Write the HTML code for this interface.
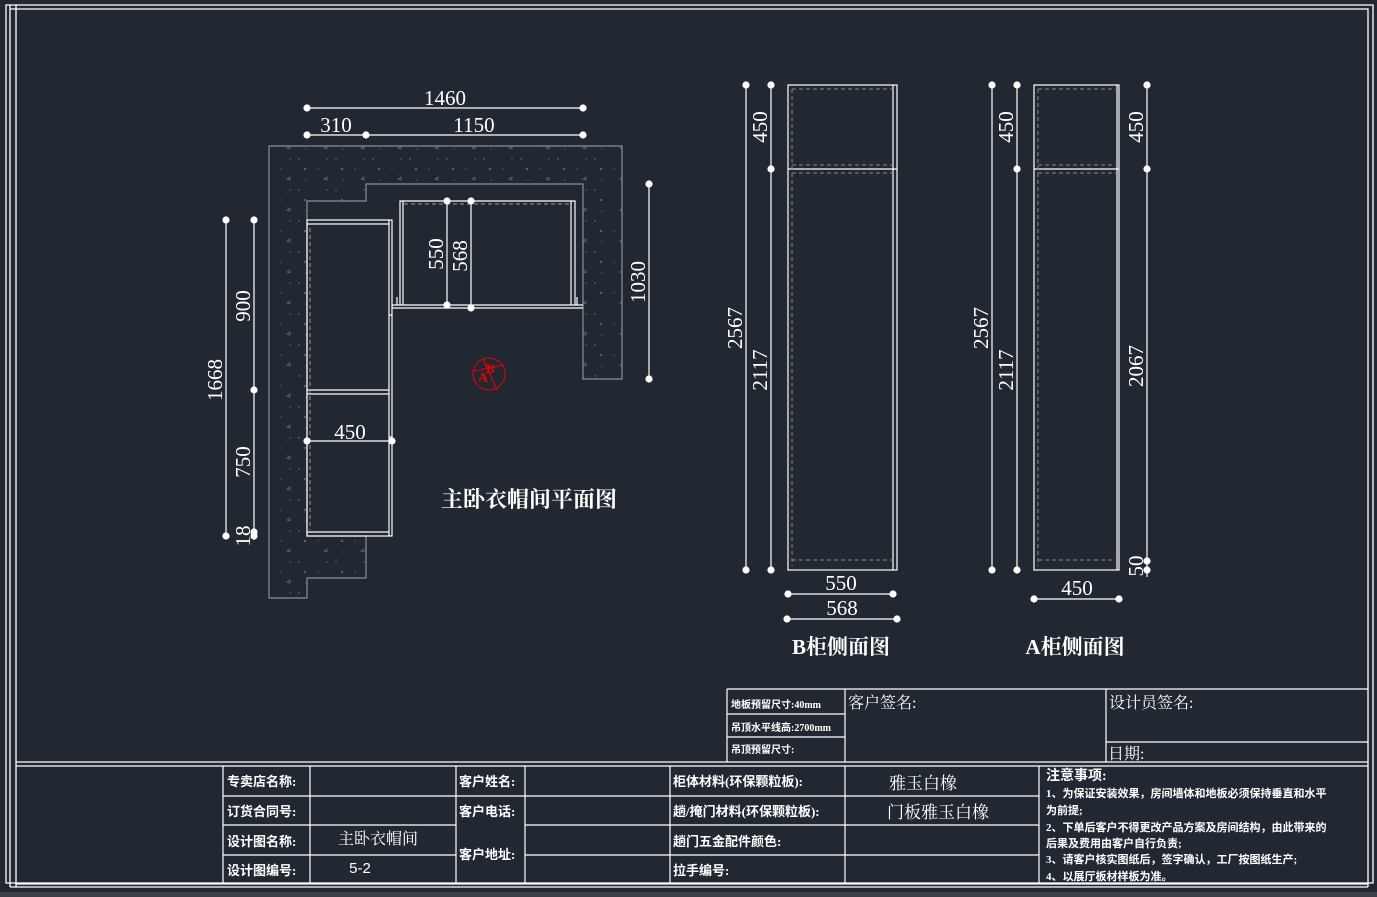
<!DOCTYPE html>
<html><head><meta charset="utf-8"><style>
html,body{margin:0;padding:0;background:#222831;}
svg{display:block}
text{font-family:"Liberation Serif","Noto Serif CJK SC","WenQuanYi Zen Hei",serif;fill:#fff}
.t{font-family:"Liberation Serif","Noto Sans CJK SC",serif;font-weight:bold;font-size:13px}
.d{font-size:21px}
</style></head><body>
<svg width="1377" height="897" viewBox="0 0 1377 897" xmlns="http://www.w3.org/2000/svg">
<defs>
<pattern id="sp" width="37" height="31" patternUnits="userSpaceOnUse">
<rect width="37" height="31" fill="#222831"/>
<circle cx="3" cy="4" r="0.7" fill="#7a7f86"/>
<circle cx="22" cy="14" r="0.6" fill="#6a6f76"/>
<circle cx="10" cy="25" r="0.6" fill="#6a6f76"/>
<path d="M28 24 l3 -2 l0 3 z" fill="none" stroke="#6a6f76" stroke-width="0.7"/>
<path d="M8 13 l2 2 M10 13 l-2 2" stroke="#6a6f76" stroke-width="0.7"/>
<circle cx="31" cy="4" r="0.6" fill="#7a7f86"/>
</pattern>
</defs>
<rect width="1377" height="897" fill="#222831"/>
<rect x="0" y="892" width="1377" height="5" fill="#3b4047"/>
<g stroke="#fff" stroke-width="1.3" fill="none">
<path d="M6 5 H1373 V883 H6 Z"/>
<path d="M10 5 V887 M16 5 V887 M10 9 H1368 V887 M10 887 H1368"/>
<path d="M16 762 H1368 M16 766 H1368"/>
</g>
<path d="M269 146 H622 V379 H583 V184 H366 V201 H307 V536 H366 V578 H307 V598 H269 Z" fill="url(#sp)" stroke="#8a8f96" stroke-width="1.2"/>
<g stroke="#fff" stroke-width="1.2" fill="none">
<rect x="307" y="220" width="85" height="316"/>
<path d="M307 224 H389 M307 532 H389 M389 220 V536 M307 390 H389 M307 394 H389 M389 315 H392 M389 437 H392"/>
<path d="M400 305 V201 H575 V305 M403 201 V305 M571 201 V305"/>
<path d="M392 305 H583 M392 308 H583 M397 297 V305 M577 297 V305"/>
</g>
<path d="M310 228 V530 M404 204 H570" stroke="#999" stroke-width="1" stroke-dasharray="4,3" fill="none"/>
<g stroke="#fff" stroke-width="1.2" fill="#fff">
<line x1="307" y1="108" x2="583" y2="108"/><circle cx="307" cy="108" r="3"/><circle cx="583" cy="108" r="3"/>
<line x1="307" y1="135" x2="583" y2="135"/><circle cx="307" cy="135" r="3"/><circle cx="366" cy="135" r="3"/><circle cx="583" cy="135" r="3"/>
<line x1="226" y1="220" x2="226" y2="536"/><circle cx="226" cy="220" r="3"/><circle cx="226" cy="536" r="3"/>
<line x1="254" y1="220" x2="254" y2="540"/><circle cx="254" cy="220" r="3"/><circle cx="254" cy="390" r="3"/><circle cx="254" cy="532" r="3"/><circle cx="254" cy="536" r="3"/>
<line x1="649" y1="184" x2="649" y2="379"/><circle cx="649" cy="184" r="3"/><circle cx="649" cy="379" r="3"/>
<line x1="307" y1="441" x2="392" y2="441"/><circle cx="307" cy="441" r="3"/><circle cx="392" cy="441" r="3"/>
<line x1="447" y1="201" x2="447" y2="305"/><circle cx="447" cy="201" r="3"/><circle cx="447" cy="305" r="3"/>
<line x1="471" y1="201" x2="471" y2="308"/><circle cx="471" cy="201" r="3"/><circle cx="471" cy="308" r="3"/>
</g>
<text class="d" x="445" y="105" text-anchor="middle">1460</text>
<text class="d" x="336" y="132" text-anchor="middle">310</text>
<text class="d" x="474" y="132" text-anchor="middle">1150</text>
<text class="d" x="350" y="439" text-anchor="middle">450</text>
<text class="d" transform="translate(222,380) rotate(-90)" text-anchor="middle">1668</text>
<text class="d" transform="translate(250,306) rotate(-90)" text-anchor="middle">900</text>
<text class="d" transform="translate(250,462) rotate(-90)" text-anchor="middle">750</text>
<text class="d" transform="translate(250,536) rotate(-90)" text-anchor="middle">18</text>
<text class="d" transform="translate(645,282) rotate(-90)" text-anchor="middle">1030</text>
<text class="d" transform="translate(443,254) rotate(-90)" text-anchor="middle">550</text>
<text class="d" transform="translate(467,256) rotate(-90)" text-anchor="middle">568</text>
<g stroke="#e00" fill="none" stroke-width="1">
<circle cx="489" cy="374" r="16"/><line x1="483" y1="359" x2="497" y2="390"/><line x1="474" y1="371" x2="504" y2="365"/>
</g>
<text x="478" y="382" style="fill:#e00;font-size:14px;font-weight:bold">A</text>
<text x="486" y="373" style="fill:#e00;font-size:13px;font-weight:bold">B</text>
<text x="529" y="507" text-anchor="middle" style="font-size:22px;font-weight:bold">主卧衣帽间平面图</text>
<g stroke="#fff" stroke-width="1.2" fill="none">
<rect x="788" y="85" width="109" height="485"/>
<path d="M893 85 V570 M788 169 H897"/>
</g>
<path d="M792 89 V566 M792 89 H893 M792 165 H893 M792 173 H893 M792 560 H893" stroke="#888" stroke-dasharray="4,3" fill="none"/>
<g stroke="#fff" stroke-width="1.2" fill="#fff">
<line x1="746" y1="85" x2="746" y2="570"/><circle cx="746" cy="85" r="3"/><circle cx="746" cy="570" r="3"/>
<line x1="771" y1="85" x2="771" y2="570"/><circle cx="771" cy="85" r="3"/><circle cx="771" cy="169" r="3"/><circle cx="771" cy="570" r="3"/>
<line x1="788" y1="594" x2="893" y2="594"/><circle cx="788" cy="594" r="3"/><circle cx="893" cy="594" r="3"/>
<line x1="787" y1="619" x2="897" y2="619"/><circle cx="787" cy="619" r="3"/><circle cx="897" cy="619" r="3"/>
</g>
<text class="d" transform="translate(742,328) rotate(-90)" text-anchor="middle">2567</text>
<text class="d" transform="translate(767,127) rotate(-90)" text-anchor="middle">450</text>
<text class="d" transform="translate(767,370) rotate(-90)" text-anchor="middle">2117</text>
<text class="d" x="841" y="590" text-anchor="middle">550</text>
<text class="d" x="842" y="615" text-anchor="middle">568</text>
<text x="841" y="654" text-anchor="middle" style="font-size:21px;font-weight:bold">B柜侧面图</text>
<g stroke="#fff" stroke-width="1.2" fill="none">
<rect x="1034" y="85" width="85" height="485"/>
<path d="M1117 85 V570 M1034 169 H1119"/>
</g>
<path d="M1038 89 V566 M1038 89 H1117 M1038 165 H1117 M1038 173 H1117 M1038 560 H1117" stroke="#888" stroke-dasharray="4,3" fill="none"/>
<g stroke="#fff" stroke-width="1.2" fill="#fff">
<line x1="992" y1="85" x2="992" y2="570"/><circle cx="992" cy="85" r="3"/><circle cx="992" cy="570" r="3"/>
<line x1="1017" y1="85" x2="1017" y2="570"/><circle cx="1017" cy="85" r="3"/><circle cx="1017" cy="169" r="3"/><circle cx="1017" cy="570" r="3"/>
<line x1="1147" y1="85" x2="1147" y2="577"/><circle cx="1147" cy="85" r="3"/><circle cx="1147" cy="169" r="3"/><circle cx="1147" cy="561" r="3"/><circle cx="1147" cy="570" r="3"/>
<line x1="1034" y1="599" x2="1119" y2="599"/><circle cx="1034" cy="599" r="3"/><circle cx="1119" cy="599" r="3"/>
</g>
<text class="d" transform="translate(988,328) rotate(-90)" text-anchor="middle">2567</text>
<text class="d" transform="translate(1013,127) rotate(-90)" text-anchor="middle">450</text>
<text class="d" transform="translate(1013,370) rotate(-90)" text-anchor="middle">2117</text>
<text class="d" transform="translate(1143,127) rotate(-90)" text-anchor="middle">450</text>
<text class="d" transform="translate(1143,366) rotate(-90)" text-anchor="middle">2067</text>
<text class="d" transform="translate(1143,566) rotate(-90)" text-anchor="middle">50</text>
<text class="d" x="1077" y="595" text-anchor="middle">450</text>
<text x="1075" y="654" text-anchor="middle" style="font-size:21px;font-weight:bold">A柜侧面图</text>
<g stroke="#fff" stroke-width="1.2" fill="none">
<path d="M727 689 H1368 M727 689 V762 M845 689 V762 M1106 689 V762 M727 714 H845 M727 737 H845 M1106 742 H1368"/>
<path d="M223 766 V884 M310 766 V884 M456 766 V884 M525 766 V884 M670 766 V884 M845 766 V884 M1039 766 V884"/>
<path d="M223 796 H1039 M223 825 H456 M525 825 H1039 M223 855 H456 M525 855 H1039 M16 884 H1368"/>
</g>
<text class="t" x="731" y="708" style="font-size:10px">地板预留尺寸:40mm</text>
<text class="t" x="731" y="731" style="font-size:10px">吊顶水平线高:2700mm</text>
<text class="t" x="731" y="753" style="font-size:10px">吊顶预留尺寸:</text>
<text x="848" y="708" style="font-size:16px">客户签名:</text>
<text x="1109" y="708" style="font-size:16px">设计员签名:</text>
<text x="1108" y="759" style="font-size:16px">日期:</text>
<text class="t" x="227" y="786">专卖店名称:</text>
<text class="t" x="227" y="816">订货合同号:</text>
<text class="t" x="227" y="846">设计图名称:</text>
<text class="t" x="227" y="875">设计图编号:</text>
<text x="378" y="844" text-anchor="middle" style="font-size:16px">主卧衣帽间</text>
<text x="360" y="873" text-anchor="middle" style="font-size:15px;font-family:'Liberation Sans',sans-serif">5-2</text>
<text class="t" x="459" y="786">客户姓名:</text>
<text class="t" x="459" y="816">客户电话:</text>
<text class="t" x="459" y="859">客户地址:</text>
<text class="t" x="673" y="786">柜体材料(环保颗粒板):</text>
<text class="t" x="673" y="816">趟/掩门材料(环保颗粒板):</text>
<text class="t" x="673" y="846">趟门五金配件颜色:</text>
<text class="t" x="673" y="875">拉手编号:</text>
<text x="923" y="789" text-anchor="middle" style="font-size:17px">雅玉白橡</text>
<text x="938" y="818" text-anchor="middle" style="font-size:17px">门板雅玉白橡</text>
<text class="t" x="1046" y="780" style="font-size:14px">注意事项:</text>
<text class="t" x="1046" y="797" style="font-size:11px">1、为保证安装效果，房间墙体和地板必须保持垂直和水平</text>
<text class="t" x="1046" y="814" style="font-size:11px">为前提;</text>
<text class="t" x="1046" y="831" style="font-size:11px">2、下单后客户不得更改产品方案及房间结构，由此带来的</text>
<text class="t" x="1046" y="847" style="font-size:11px">后果及费用由客户自行负责;</text>
<text class="t" x="1046" y="863" style="font-size:11px">3、请客户核实图纸后，签字确认，工厂按图纸生产;</text>
<text class="t" x="1046" y="880" style="font-size:11px">4、以展厅板材样板为准。</text>
</svg>
</body></html>
